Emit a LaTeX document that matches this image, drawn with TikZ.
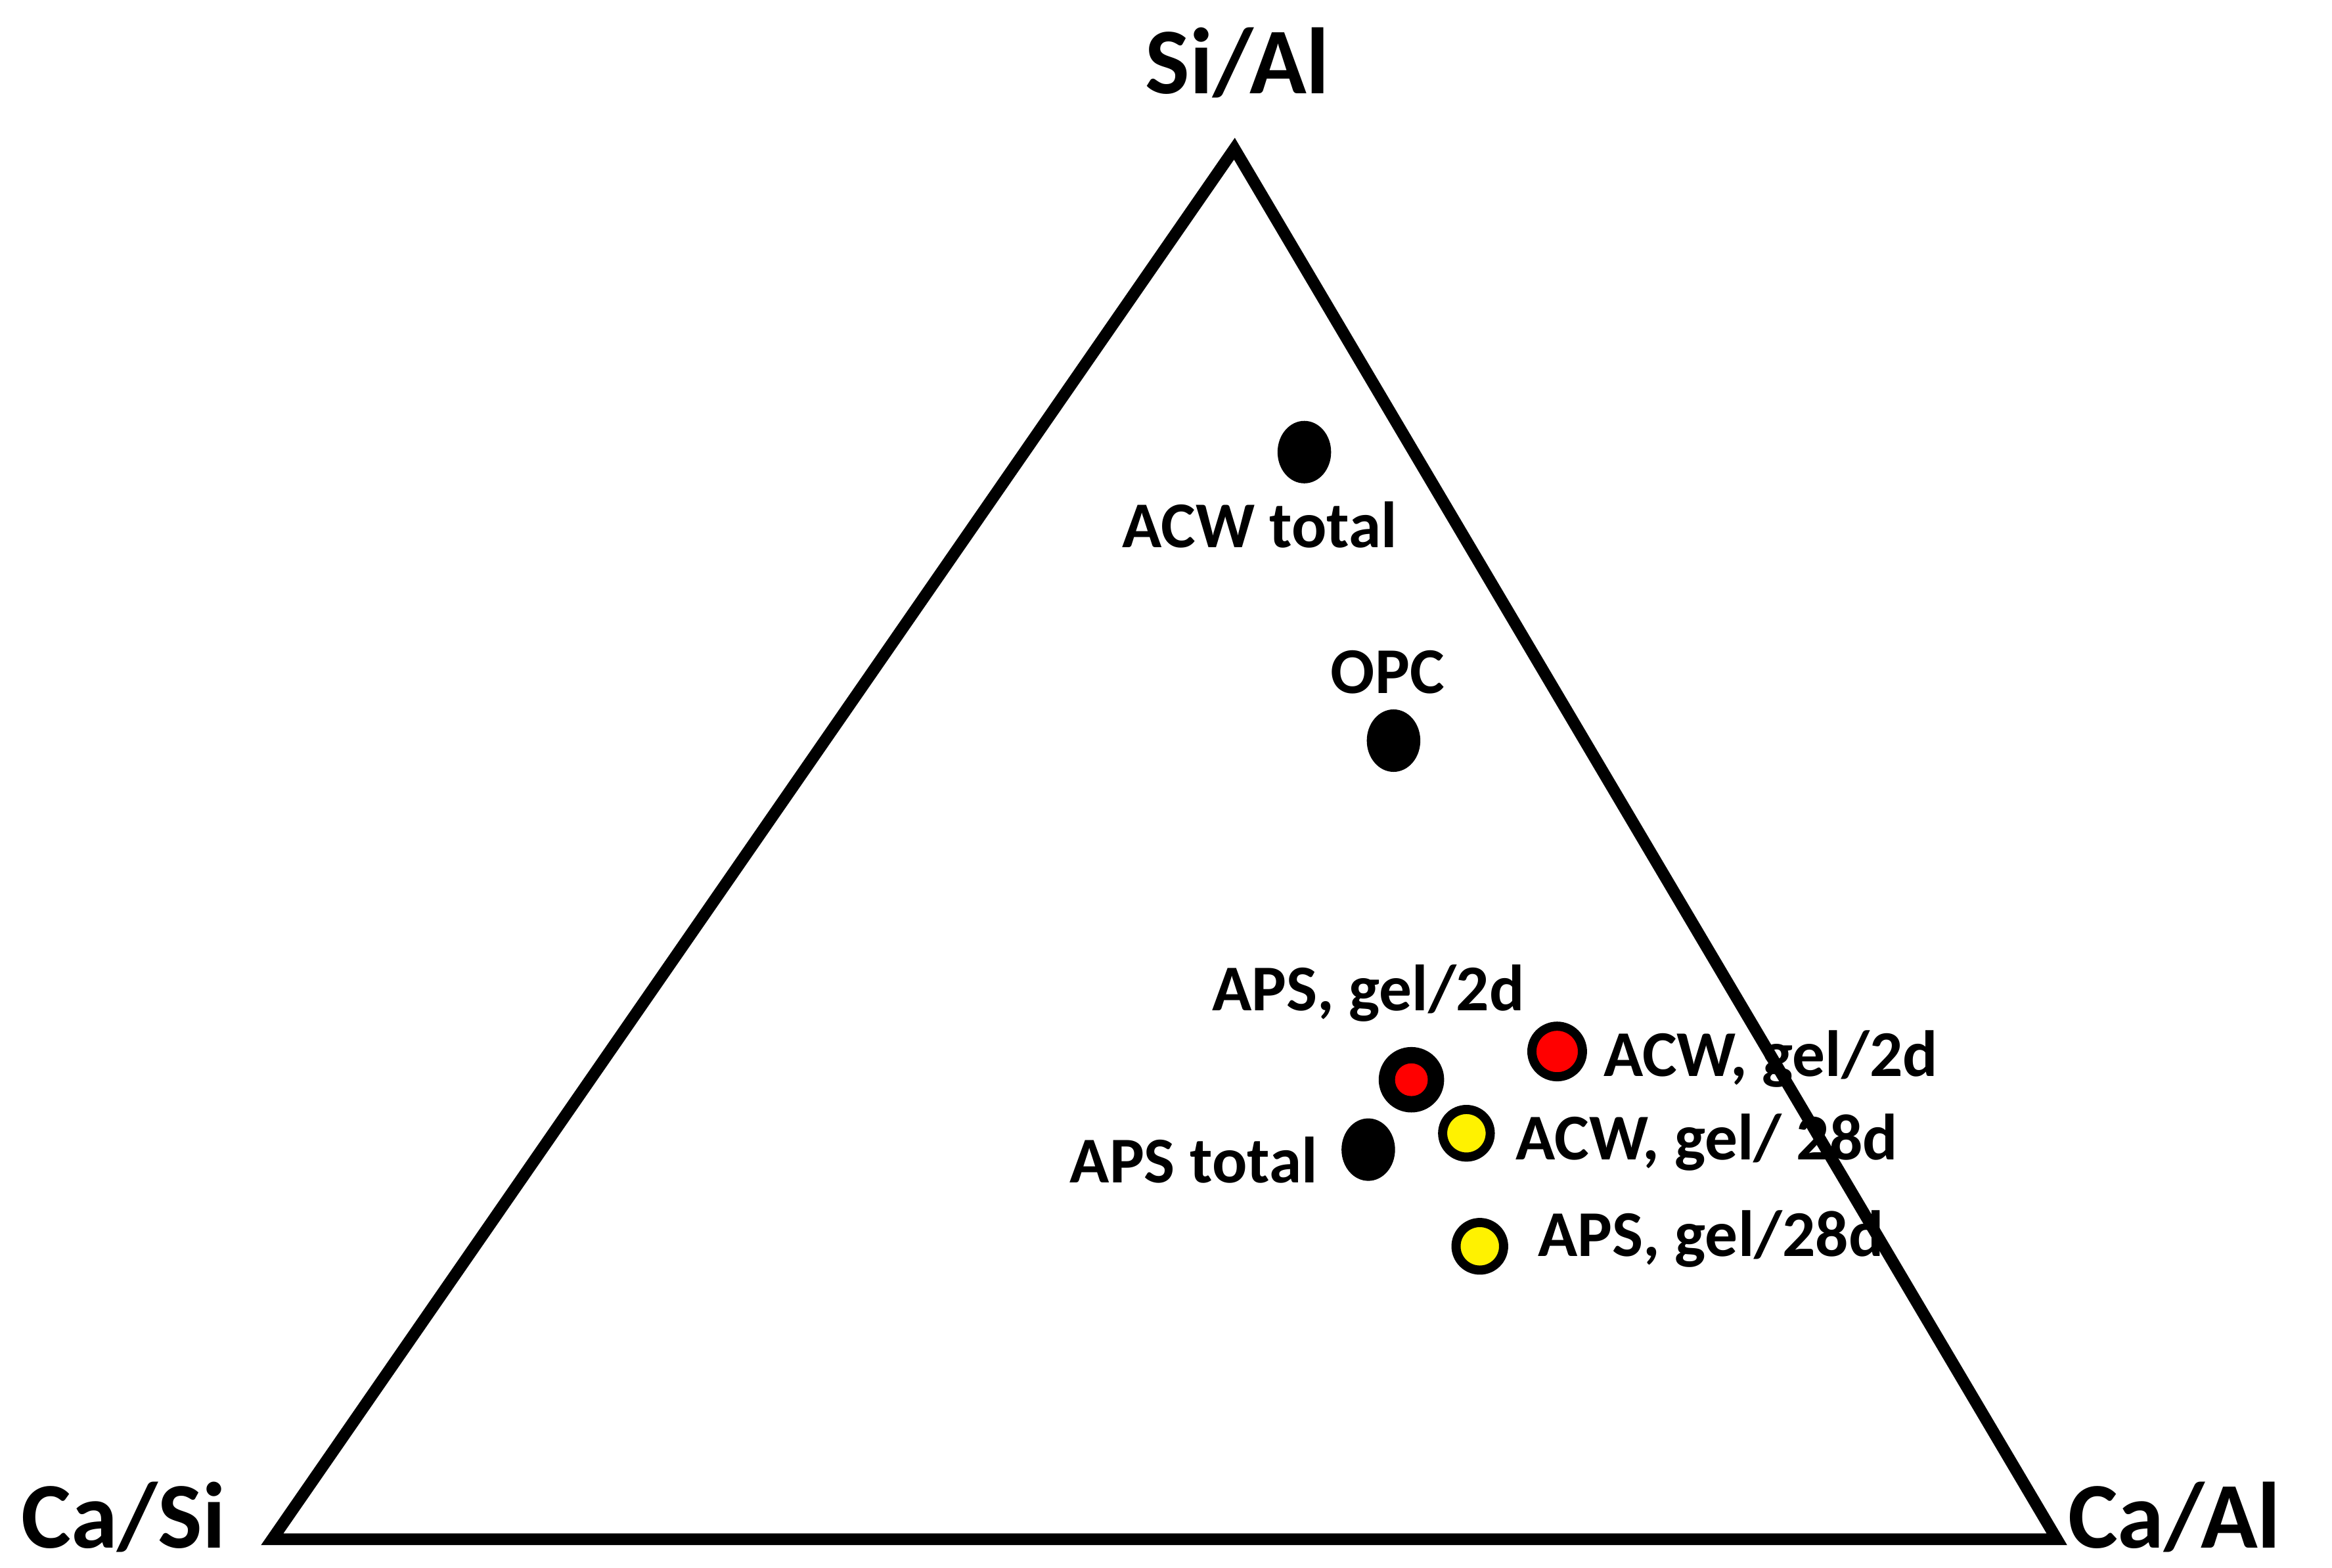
\documentclass[tikz,border=0pt]{standalone}
\usepackage{fontspec}
\setmainfont{Carlito}
\begin{document}
\begin{tikzpicture}[x=0.02cm,y=-0.02cm,
  big/.style={font=\fontsize{36}{40}\selectfont\bfseries},
  lab/.style={font=\fontsize{25}{28}\selectfont\bfseries},
  blk/.style={fill=black,ellipse,minimum width=36*0.02cm,minimum height=42*0.02cm,inner sep=0},
  ring/.style={circle,draw=black,line width=3.5pt,inner sep=0,minimum size=#1*0.02cm}]
\usetikzlibrary{shapes.geometric}
\useasboundingbox (0,0) rectangle (1568,1054);
\coordinate (A) at (830,100);
\coordinate (B) at (183,1035);
\coordinate (C) at (1383,1035);
\draw[line width=4.5pt,line join=miter] (A) -- (B) -- (C) -- cycle;
\node[big] (tA) at (832,42) {Si/Al};
\node[big] (tB) at (83,1020) {Ca/Si};
\node[big] (tC) at (1462,1020) {Ca/Al};
\node[blk] (p1) at (877,304) {};
\node[blk] (p2) at (937,498) {};
\node[blk] (p3) at (920,773) {};
\node[ring=34,fill=red] (p4) at (949,726) {};
\node[circle,fill=black,inner sep=0,minimum size=44*0.02cm] (p4o) at (949,726) {};
\node[circle,fill=red,inner sep=0,minimum size=22*0.02cm] (p4i) at (949,726) {};
\node[ring=34,fill=red] (p5) at (1047,707) {};
\node[ring=32,fill=yellow] (p6) at (986,762) {};
\node[ring=32,fill=yellow] (p7) at (995,838) {};
\node[lab] (l1) at (847,353) {ACW total};
\node[lab] (l2) at (933,452) {OPC};
\node[lab] (l4) at (920,668) {APS, gel/2d};
\node[lab,anchor=west] (l5) at (1072,712) {ACW, gel/2d};
\node[lab,anchor=west] (l6) at (1013,768) {ACW, gel/ 28d};
\node[lab,anchor=east] (l3) at (892,780) {APS total};
\node[lab,anchor=west] (l7) at (1028,833) {APS, gel/28d};
\end{tikzpicture}
\end{document}
